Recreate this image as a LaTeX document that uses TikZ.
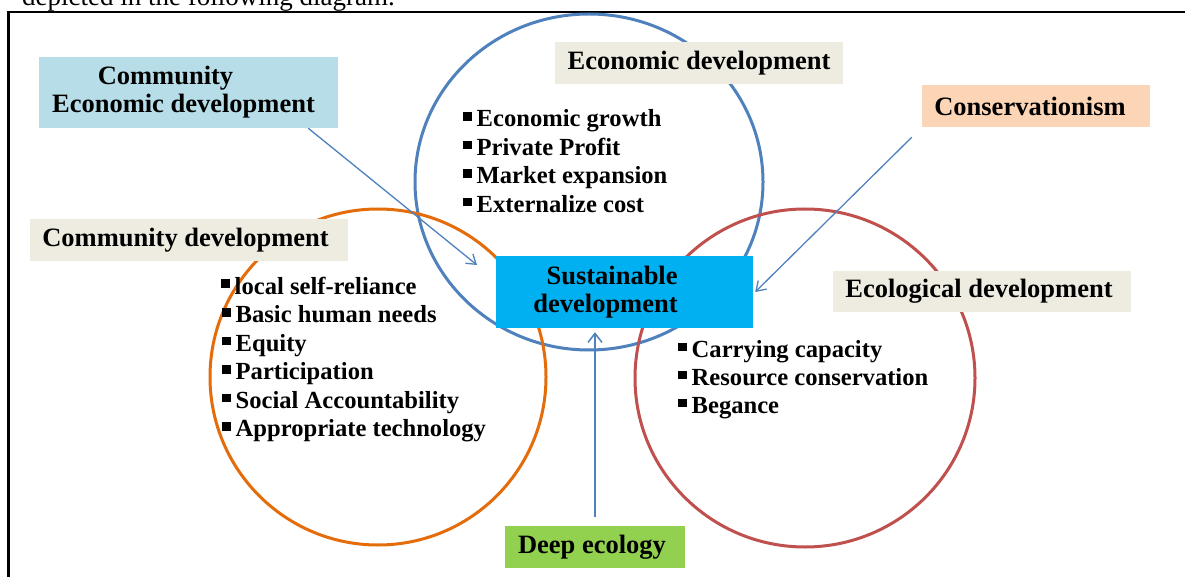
\documentclass[tikz,border=0pt]{standalone}
\usepackage{fontspec}
\setmainfont{Liberation Serif}
\usetikzlibrary{arrows.meta,calc}
\definecolor{ecoblue}{HTML}{4F81BD}
\definecolor{comorange}{HTML}{E46C0A}
\definecolor{ecored}{HTML}{C0504D}
\definecolor{susblue}{HTML}{00B0F0}
\definecolor{cedblue}{HTML}{B7DDE8}
\definecolor{beige}{HTML}{EEECE1}
\definecolor{peach}{HTML}{FBD5B5}
\definecolor{leafgreen}{HTML}{92D050}
\newcommand\hdrfont{\fontsize{26.5}{28}\selectfont\bfseries}
\newcommand\itmfont{\fontsize{24.6}{28}\selectfont\bfseries}
\newcommand\bul{\rule[6pt]{8.5pt}{8.5pt}\hspace{5pt}}
\tikzset{
  ring/.style={line width=3pt},
  labbox/.style={inner sep=0pt, align=center, font=\hdrfont, text=black},
  itembox/.style={anchor=base west, inner sep=0pt, font=\itmfont},
  conn/.style={draw=ecoblue, line width=1.3pt, -{Straight Barb[length=9pt,width=12pt,line width=1.3pt]}},
  connthick/.style={draw=ecoblue, line width=2.6pt, -{Straight Barb[length=9pt,width=14pt,line width=1.5pt]}}
}
\begin{document}
\begin{tikzpicture}[x=1pt,y=-1pt]
\useasboundingbox (0,0) rectangle (1185,577);
\fill[white] (0,0) rectangle (1185,577);
% cropped caption and frame
\node[anchor=base west, inner sep=0pt, font=\fontsize{27}{30}\selectfont] (cap) at (22,6) {depicted in the following diagram.};
\draw[line width=2.5pt] (8.7,577) -- (8.7,12) -- (1185,12);
% circles
\draw[ring, ecoblue] (589,182) ellipse [x radius=174pt, y radius=168pt];
\draw[ring, comorange] (378,377) ellipse [x radius=168pt, y radius=168pt];
\draw[ring, ecored] (805,378) ellipse [x radius=170pt, y radius=169pt];
% label boxes
\node[labbox, fill=cedblue, minimum width=299pt, minimum height=71pt] (ced) at (188.5,92.5) {Community\hspace*{46pt}\\Economic development\hspace*{10pt}};
\node[labbox, fill=beige, minimum width=318pt, minimum height=42pt] (cd) at (189,240) {Community development\hspace*{7pt}};
\node[labbox, fill=beige, minimum width=288pt, minimum height=42pt] (ed) at (699,63) {Economic development};
\node[labbox, fill=peach, minimum width=228pt, minimum height=42pt] (cons) at (1036,106) {Conservationism\hspace*{12pt}};
\node[labbox, fill=beige, minimum width=298pt, minimum height=41pt] (eco) at (982,291.5) {Ecological development\hspace*{6pt}};
\node[labbox, fill=leafgreen, minimum width=180pt, minimum height=42pt] (deep) at (595,547) {Deep ecology\hspace*{6pt}};
\node[labbox, align=right, fill=susblue, minimum width=257pt, minimum height=72pt] (sus) at (624.5,292) {Sustainable\hspace*{38pt}\\development\hspace*{38pt}};
% bullet lists
\node[itembox] (e1) at (463,127) {\bul Economic growth};
\node[itembox] (e2) at (463,155.5) {\bul Private Profit};
\node[itembox] (e3) at (463,184) {\bul Market expansion};
\node[itembox] (e4) at (463,212.5) {\bul Externalize cost};
\node[itembox] (c1) at (221,294) {\bul local self-reliance};
\node[itembox] (c2) at (222,322.5) {\bul Basic human needs};
\node[itembox] (c3) at (222,351) {\bul Equity};
\node[itembox] (c4) at (222,379.5) {\bul Participation};
\node[itembox] (c5) at (222,408) {\bul Social Accountability};
\node[itembox] (c6) at (222,436.5) {\bul Appropriate technology};
\node[itembox] (g1) at (678,357) {\bul Carrying capacity};
\node[itembox] (g2) at (678,385) {\bul Resource conservation};
\node[itembox] (g3) at (678,413) {\bul Begance};
% connectors
\coordinate (cedtip) at (477,265);
\draw[conn] ([xshift=-30pt]ced.south east) -- (cedtip);
\draw[conn] ([shift={(-10pt,-10pt)}]cons.south west) -- ([xshift=2pt]sus.east);
\draw[connthick, shorten <=9pt, shorten >=4pt] (deep.north) -- (deep.north |- sus.south);
\end{tikzpicture}
\end{document}
